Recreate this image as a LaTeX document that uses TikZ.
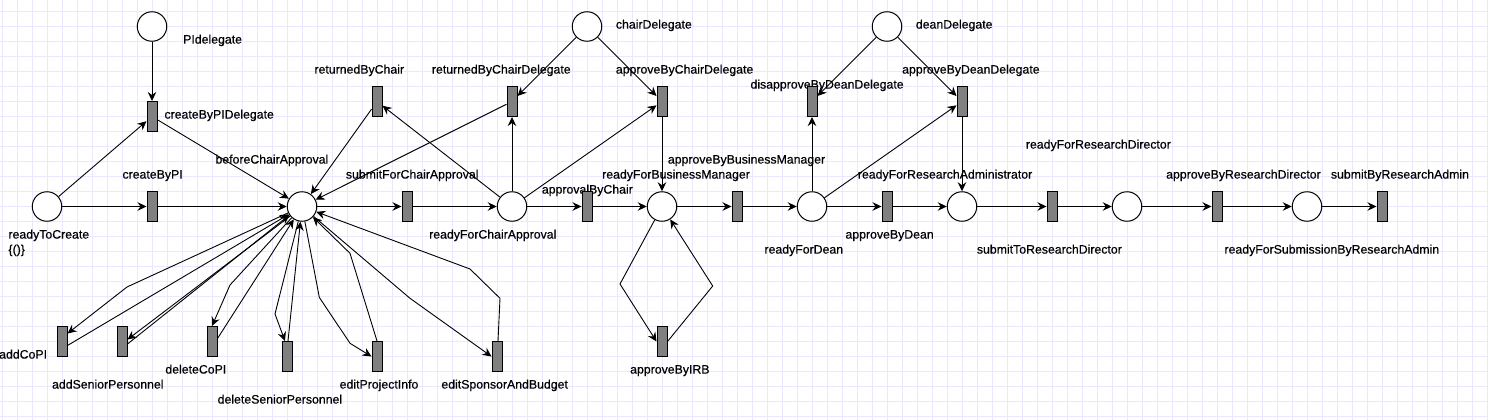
\documentclass[tikz,border=0pt]{standalone}
\usepackage{fontspec}
\setmainfont{Liberation Sans}
\newfontfamily\lblfont[FakeBold=0.4]{Liberation Sans}
\usetikzlibrary{arrows.meta,calc}
\definecolor{gridcol}{RGB}{234,232,255}
\definecolor{transgray}{RGB}{128,128,128}
\pgfdeclarelayer{bg}
\pgfdeclarelayer{lab}
\pgfsetlayers{bg,lab,main}
\begin{document}
\begin{tikzpicture}[x=1pt,y=-1pt,
  place/.style={circle,draw=black,fill=white,line width=1pt,minimum size=29.5pt,inner sep=0pt},
  trans/.style={rectangle,draw=black,fill=transgray,line width=1pt,minimum width=10pt,minimum height=30pt,inner sep=0pt},
  lbl/.style={anchor=base west,inner sep=0pt,font=\lblfont\fontsize{12.3}{14}\selectfont},
  pnarc/.style={draw=black,line width=0.9pt,-{Stealth[length=9pt,width=8.5pt,inset=3pt]}},
  gridln/.style={draw=gridcol,line width=1pt}]
\useasboundingbox (0,0) rectangle (1488,420);
\begin{pgfonlayer}{bg}
\fill[white] (0,0) rectangle (1488,420);
\foreach \i in {0,...,99} \draw[gridln] ({2+15*\i},0) -- ({2+15*\i},420);
\foreach \j in {0,...,27} \draw[gridln] (0,{11.7+15*\j}) -- (1488,{11.7+15*\j});
\end{pgfonlayer}

% places
\node[place] (pid) at (152,26.5) {};
\node[place] (rtc) at (47,206.5) {};
\node[place] (bca) at (302,206.5) {};
\node[place] (rca) at (512,206.5) {};
\node[place] (cd) at (587,26.5) {};
\node[place] (rbm) at (662,206.5) {};
\node[place] (rfd) at (812,206.5) {};
\node[place] (dd) at (887,26.5) {};
\node[place] (rra) at (962,206.5) {};
\node[place] (rrd) at (1127,206.5) {};
\node[place] (rsra) at (1307,206.5) {};

% transitions
\node[trans] (cbpd) at (152,116.5) {};
\node[trans] (cbpi) at (152,206.5) {};
\node[trans] (rbc) at (377,101.5) {};
\node[trans] (sfca) at (407,206.5) {};
\node[trans] (rbcd) at (512,101.5) {};
\node[trans] (abcd) at (662,101.5) {};
\node[trans] (abc) at (587,206.5) {};
\node[trans] (abm) at (737,206.5) {};
\node[trans] (dbdd) at (812,101.5) {};
\node[trans] (abdd) at (962,101.5) {};
\node[trans] (abd) at (887,206.5) {};
\node[trans] (strd) at (1052,206.5) {};
\node[trans] (abrd) at (1217,206.5) {};
\node[trans] (sbra) at (1382,206.5) {};
\node[trans] (irb) at (662,341.5) {};
\node[trans] (aco) at (62,341.5) {};
\node[trans] (asp) at (122,341.5) {};
\node[trans] (dco) at (212,341.5) {};
\node[trans] (dsp) at (287,356.5) {};
\node[trans] (epi) at (377,356.5) {};
\node[trans] (esb) at (497,356.5) {};

% bend points
\coordinate (bAco) at (127,287);
\coordinate (bDco) at (230,285);
\coordinate (bDsp) at (275,314);
\coordinate (bEpi1) at (319.3,297.3);
\coordinate (bEpi2) at (350,343.3);
\coordinate (bEpi3) at (350,253.3);
\coordinate (bEsb1) at (410,298.3);
\coordinate (bEsb2) at (500,298.3);
\coordinate (bEsb3) at (470,269);
\coordinate (bIrbL) at (620,284);
\coordinate (bIrbR) at (712.7,286);

% arcs: top part
\draw[pnarc] (pid) -- (cbpd);
\draw[pnarc] (rtc) -- (cbpd);
\draw[pnarc] (rtc) -- (cbpi);
\draw[pnarc] (cbpi) -- (bca);
\draw[pnarc] (cbpd) -- (bca);
\draw[pnarc] (rbc) -- (bca);
\draw[pnarc] (rca) -- (rbc);
\draw[pnarc] (rbcd) -- (bca);
\draw[pnarc] (rca) -- (rbcd);
\draw[pnarc] (cd) -- (rbcd);
\draw[pnarc] (cd) -- (abcd);
\draw[pnarc] (rca) -- (abcd);
\draw[pnarc] (bca) -- (sfca);
\draw[pnarc] (sfca) -- (rca);
\draw[pnarc] (rca) -- (abc);
\draw[pnarc] (abc) -- (rbm);
\draw[pnarc] (abcd) -- (rbm);
\draw[pnarc] (rbm) -- (abm);
\draw[pnarc] (abm) -- (rfd);
\draw[pnarc] (rbm) -- (bIrbL) -- (irb.west);
\draw[pnarc] (irb.east) -- (bIrbR) -- (rbm);
\draw[pnarc] (rfd) -- (dbdd);
\draw[pnarc] (dd) -- (dbdd);
\draw[pnarc] (dd) -- (abdd);
\draw[pnarc] (rfd) -- (abdd);
\draw[pnarc] (abdd) -- (rra);
\draw[pnarc] (rfd) -- (abd);
\draw[pnarc] (abd) -- (rra);
\draw[pnarc] (rra) -- (strd);
\draw[pnarc] (strd) -- (rrd);
\draw[pnarc] (rrd) -- (abrd);
\draw[pnarc] (abrd) -- (rsra);
\draw[pnarc] (rsra) -- (sbra);

% arcs: editing transitions
\draw[pnarc] (bca) -- (bAco) -- ($(aco.east)+(0,-8)$);
\draw[pnarc] ($(aco.east)+(0,4)$) -- (bca);
\draw[pnarc] (bca.219) -- ($(asp.east)+(0,-2)$);
\draw[pnarc] ($(asp.east)+(0,2.5)$) -- (bca.214);
\draw[pnarc] (bca) -- (bDco) -- (dco.north);
\draw[pnarc] ($(dco.east)+(0,-3)$) -- (bca);
\draw[pnarc] (bca) -- (bDsp) -- ($(dsp.north)+(-2,0)$);
\draw[pnarc] ($(dsp.north)+(1,0)$) -- (bca);
\draw[pnarc] (bca) -- (bEpi1) -- (bEpi2) -- (epi.west);
\draw[pnarc] (epi.north) -- (bEpi3) -- (bca);
\draw[pnarc] (bca) -- (bEsb1) -- (esb.west);
\draw[pnarc] ($(esb.north)+(1,0)$) -- (bEsb2) -- (bEsb3) -- (bca);

% labels
\begin{pgfonlayer}{lab}
\node[lbl] (lpid) at (183,43.6) {PIdelegate};
\node[lbl] (lcbpd) at (164.3,118.6) {createByPIDelegate};
\node[lbl] (lbca) at (215.3,163.6) {beforeChairApproval};
\node[lbl] (lcbpi) at (122.3,178.6) {createByPI};
\node[lbl] (lrtc) at (8.3,238.6) {readyToCreate};
\node[lbl] (lrtc2) at (8.3,253.6) {\{()\}};
\node[lbl] (lrbc) at (314.3,73.6) {returnedByChair};
\node[lbl] (lsfca) at (345.7,178.6) {submitForChairApproval};
\node[lbl] (lrca) at (429,238.6) {readyForChairApproval};
\node[lbl] (lcd) at (615.7,28.6) {chairDelegate};
\node[lbl] (lrbcd) at (431.7,73.6) {returnedByChairDelegate};
\node[lbl] (labcd) at (615.7,73.6) {approveByChairDelegate};
\node[lbl] (labm) at (667.7,163.6) {approveByBusinessManager};
\node[lbl] (lrbm) at (602,178.6) {readyForBusinessManager};
\node[lbl] (labc) at (541.7,193.6) {approvalByChair};
\node[lbl] (ldbdd) at (750.3,88.6) {disapproveByDeanDelegate};
\node[lbl] (ldd) at (915.7,28.6) {deanDelegate};
\node[lbl] (labdd) at (902,73.6) {approveByDeanDelegate};
\node[lbl] (lrra) at (857.7,178.6) {readyForResearchAdministrator};
\node[lbl] (labd) at (845.3,238.6) {approveByDean};
\node[lbl] (lrfd) at (764.3,253.6) {readyForDean};
\node[lbl] (lstrd) at (976.7,253.6) {submitToResearchDirector};
\node[lbl] (lrrd) at (1025.7,148.6) {readyForResearchDirector};
\node[lbl] (labrd) at (1166,178.6) {approveByResearchDirector};
\node[lbl] (lsbra) at (1330.7,178.6) {submitByResearchAdmin};
\node[lbl] (lrsra) at (1224.3,253.6) {readyForSubmissionByResearchAdmin};
\node[lbl] (lirb) at (630,373.6) {approveByIRB};
\node[lbl] (laco) at (-1,358.6) {addCoPI};
\node[lbl] (lasp) at (51.9,388.6) {addSeniorPersonnel};
\node[lbl] (ldco) at (165.2,373.6) {deleteCoPI};
\node[lbl] (ldsp) at (217.5,403.6) {deleteSeniorPersonnel};
\node[lbl] (lepi) at (339.5,388.6) {editProjectInfo};
\node[lbl] (lesb) at (441.2,388.6) {editSponsorAndBudget};
\end{pgfonlayer}
\end{tikzpicture}
\end{document}
